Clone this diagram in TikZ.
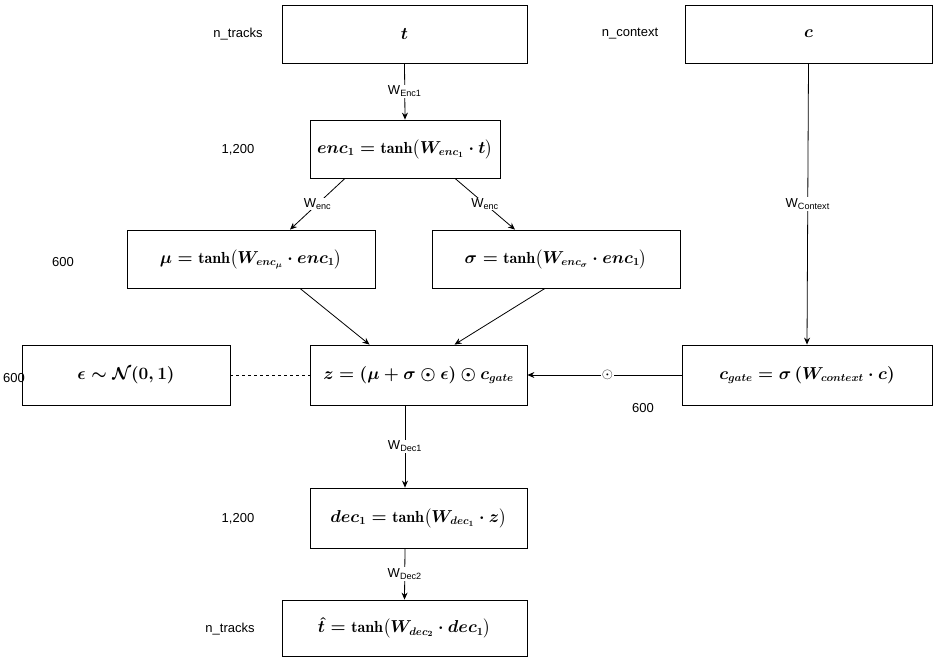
\documentclass[tikz,border=0pt]{standalone}
\usepackage{amsmath,amssymb,bm}
\usepackage{fontspec}
\setsansfont{Liberation Sans}
\usetikzlibrary{arrows.meta}
\begin{document}
\begin{tikzpicture}[x=1pt,y=-1pt,
  bx/.style={draw,line width=0.8pt,minimum height=58pt,inner sep=0pt,font=\fontsize{16}{18}\selectfont\boldmath},
  lab/.style={font=\sffamily\fontsize{13}{15}\selectfont},
  wl/.style={font=\sffamily\fontsize{13}{15}\selectfont,fill=white,inner sep=1pt},
  arr/.style={-{Stealth[length=7pt,width=6pt]},line width=0.8pt}]
\useasboundingbox (0,0) rectangle (934,656);
\node[bx,minimum width=245pt] (t) at (404.5,34) {$t$};
\node[bx,minimum width=247pt] (c) at (808.5,34) {$c$};
\node[bx,minimum width=190pt] (e) at (405,149) {$enc_1=\tanh\!\big(W_{enc_1}\cdot t\big)$};
\node[bx,minimum width=248pt] (mu) at (251,259) {$\bm{\mu}=\tanh\!\big(W_{enc_\mu}\cdot enc_1\big)$};
\node[bx,minimum width=248pt] (sg) at (556,259) {$\bm{\sigma}=\tanh\!\big(W_{enc_\sigma}\cdot enc_1\big)$};
\node[bx,minimum width=217pt,minimum height=60pt] (z) at (418.5,375) {$z=(\bm{\mu}+\bm{\sigma}\odot\bm{\epsilon})\odot c_{gate}$};
\node[bx,minimum width=208pt,minimum height=60pt] (ep) at (126,375) {$\bm{\epsilon}\sim\bm{\mathcal{N}(0,1)}$};
\node[bx,minimum width=250pt,minimum height=60pt] (cg) at (807,375) {$c_{gate}=\bm{\sigma}\left(W_{context}\cdot c\right)$};
\node[bx,minimum width=217pt,minimum height=60pt] (d) at (418.5,518) {$dec_1=\tanh\!\big(W_{dec_1}\cdot z\big)$};
\node[bx,minimum width=245pt,minimum height=56pt] (th) at (404.5,628) {$\hat{t}=\tanh\!\big(W_{dec_2}\cdot dec_1\big)$};
\node[lab] (l1) at (238,34) {n\_tracks};
\node[lab] (l2) at (630,34) {n\_context};
\node[lab] (l3) at (238,150) {1,200};
\node[lab] (l4) at (63,262) {600};
\node[lab] (l5) at (14,378) {600};
\node[lab] (l6) at (643,408) {600};
\node[lab] (l7) at (238,519) {1,200};
\node[lab] (l8) at (230,629) {n\_tracks};
\draw[arr] (t.south) -- node[wl]{W\textsubscript{Enc1}} (e.north);
\draw[arr] ([xshift=-60pt]e.south) -- node[wl]{W\textsubscript{enc}} ([xshift=39pt]mu.north);
\draw[arr] ([xshift=50pt]e.south) -- node[wl]{W\textsubscript{enc}} ([xshift=-41pt]sg.north);
\draw[arr] ([xshift=49pt]mu.south) -- ([xshift=-49pt]z.north);
\draw[arr] ([xshift=-11pt]sg.south) -- ([xshift=36pt]z.north);
\draw[arr] (c.south) -- node[wl]{W\textsubscript{Context}} (cg.north);
\draw[arr] (cg.west) -- node[fill=white,inner sep=1pt,pos=0.48,font=\fontsize{14}{16}\selectfont]{$\odot$} (z.east);
\draw[dashed,line width=0.6pt] (ep.east) -- (z.west);
\draw[arr] ([xshift=-13.5pt]z.south) -- node[wl]{W\textsubscript{Dec1}} ([xshift=-13.5pt]d.north);
\draw[arr] ([xshift=-13.5pt]d.south) -- node[wl]{W\textsubscript{Dec2}} (th.north);
\end{tikzpicture}
\end{document}
